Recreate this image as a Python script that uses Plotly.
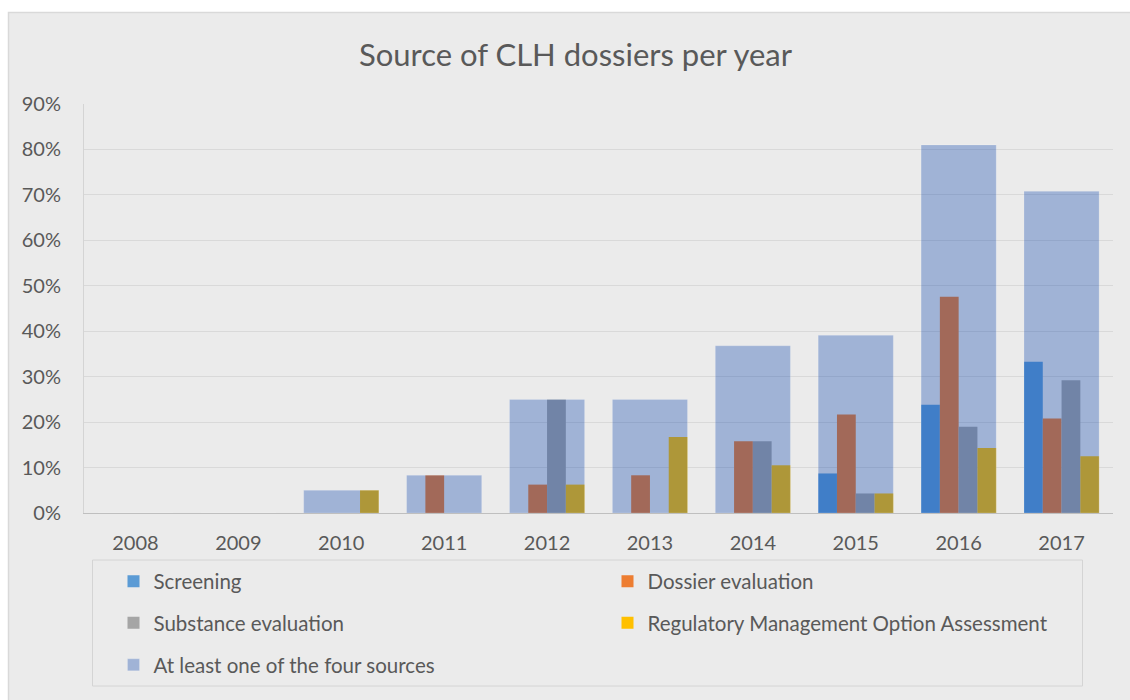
import plotly.graph_objects as go

# ---- data (percent of CLH dossiers per year) ----
years = ["2008", "2009", "2010", "2011", "2012", "2013", "2014", "2015", "2016", "2017"]
screening = [0, 0, 0, 0, 0, 0, 0, 8.7, 23.8, 33.3]
dossier_evaluation = [0, 0, 0, 8.3, 6.25, 8.3, 15.8, 21.7, 47.6, 20.8]
substance_evaluation = [0, 0, 0, 0, 25.0, 0, 15.8, 4.3, 19.0, 29.2]
rmoa = [0, 0, 5.0, 0, 6.25, 16.7, 10.5, 4.3, 14.3, 12.5]
at_least_one = [0, 0, 5.0, 8.3, 25.0, 25.0, 36.8, 39.1, 81.0, 70.8]
y_ticks = [0, 10, 20, 30, 40, 50, 60, 70, 80, 90]
y_tick_labels = [f"{v}%" for v in y_ticks]

FONT = "Lato"
TXT = "#595959"
BG = "#ebebeb"

# plot-area pixel geometry
L, R, T, B = 84, 17, 104, 187
W, H = 1130, 700
PW, PH = W - L - R, H - T - B


def px(x):
    return (x - L) / PW


def py(y):
    return (H - B - y) / PH


group_w = 0.73
bw = group_w / 4

series = [
    ("Screening", screening, "#5b9bd5", "legend"),
    ("Dossier evaluation", dossier_evaluation, "#ed7d31", "legend2"),
    ("Substance evaluation", substance_evaluation, "#a5a5a5", "legend3"),
    ("Regulatory Management Option Assessment", rmoa, "#ffc000", "legend4"),
]

fig = go.Figure()
for i, (name, vals, col, lg) in enumerate(series):
    fig.add_trace(go.Bar(
        x=years, y=vals, name=name, marker=dict(color=col, line=dict(width=0)),
        width=bw, offset=-group_w / 2 + i * bw, legend=lg,
        hovertemplate="%{x}: %{y:.1f}%<extra>" + name + "</extra>",
    ))

fig.add_trace(go.Bar(
    x=years, y=at_least_one, name="At least one of the four sources",
    marker=dict(color="rgba(8,68,174,0.33)", line=dict(width=1, color="rgba(255,255,255,0.18)")),
    width=group_w, offset=-group_w / 2, legend="legend5",
    hovertemplate="%{x}: %{y:.1f}%<extra>At least one</extra>",
))

# legend positions (pixel rows / columns)
col1_x, col2_x = 113.5, 607.5
rows = [581.5, 623, 665]
legpos = {
    "legend": (col1_x, rows[0]),
    "legend2": (col2_x, rows[0]),
    "legend3": (col1_x, rows[1]),
    "legend4": (col2_x, rows[1]),
    "legend5": (col1_x, rows[2]),
}
leg_layout = {}
for k, (lx, ly) in legpos.items():
    leg_layout[k] = dict(
        x=px(lx), y=py(ly), xanchor="left", yanchor="middle",
        bgcolor="rgba(0,0,0,0)", borderwidth=0,
        font=dict(family=FONT, size=20.5, color=TXT),
    )

fig.update_layout(
    width=W, height=H,
    margin=dict(l=L, r=R, t=T, b=B, pad=0),
    paper_bgcolor="white",
    plot_bgcolor=BG,
    barmode="overlay",
    showlegend=True,
    font=dict(family=FONT, color=TXT),
    title=dict(
        text="Source of CLH dossiers per year",
        x=575.5 / W, xref="container", xanchor="center",
        y=1 - 55 / H, yref="container", yanchor="middle",
        font=dict(family=FONT, size=31, color=TXT),
    ),
    xaxis=dict(
        type="category", categoryorder="array", categoryarray=years,
        range=[-0.5, len(years) - 0.5],
        showgrid=False, zeroline=False,
        showline=True, linecolor="#bfbfbf", linewidth=1,
        ticks="", ticklabelstandoff=12,
        tickfont=dict(family=FONT, size=20, color=TXT),
    ),
    yaxis=dict(
        range=[0, 90], tickmode="array", tickvals=y_ticks, ticktext=y_tick_labels,
        showgrid=True, gridcolor="#d9d9d9", gridwidth=1,
        zeroline=False,
        showline=True, linecolor="#d4d4d4", linewidth=1,
        ticks="", ticklabelstandoff=18,
        tickfont=dict(family=FONT, size=20, color=TXT),
    ),
    shapes=[
        # chart area background and frame
        dict(type="rect", xref="paper", yref="paper", layer="below",
             x0=px(8.5), x1=px(1135), y0=py(705), y1=py(12.5),
             fillcolor=BG, line=dict(color="#d9d9d9", width=1.5)),
        # legend frame
        dict(type="rect", xref="paper", yref="paper", layer="above",
             x0=px(92.5), x1=px(1082.5), y0=py(686), y1=py(560),
             fillcolor="rgba(0,0,0,0)", line=dict(color="#d4d4d4", width=1)),
    ],
    **leg_layout,
)

fig.write_html(
    "out.html",
    config={"displayModeBar": False},
    post_script="document.body.style.margin='0';",
)
